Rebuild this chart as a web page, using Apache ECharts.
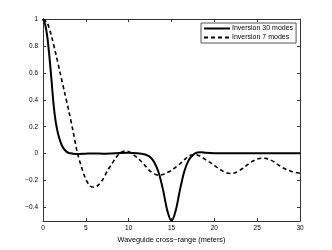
<!DOCTYPE html>
<html><head><meta charset="utf-8">
<script src="https://cdn.jsdelivr.net/npm/echarts@6/dist/echarts.min.js"></script>
<style>html,body{margin:0;padding:0;background:#fff}#c{width:332px;height:250px}</style>
</head><body><div id="c"></div>
<script>
var seriesNames = ["Inversion 30 modes", "Inversion 7 modes"];
var xTicks = [0, 5, 10, 15, 20, 25, 30];
var yTicks = [-0.4, -0.2, 0, 0.2, 0.4, 0.6, 0.8, 1];
var xTitle = "Waveguide cross\u2212range (meters)";

var x30 = [0, 0.25, 0.5, 0.75, 1.0, 1.25, 1.5, 1.75, 2.0, 2.25, 2.5, 2.75, 3.0, 3.5, 4, 5, 6, 7, 8, 9, 10, 11, 11.5, 12, 12.5, 13, 13.5, 14, 14.5, 15, 15.5, 16, 16.5, 17, 17.5, 18, 18.5, 19, 20, 22, 24, 26, 28, 30];
var y30 = [1.0, 0.96, 0.87, 0.72, 0.54, 0.355, 0.23, 0.15, 0.095, 0.055, 0.03, 0.015, 0.005, 0.0, -0.003, 0.0, 0.002, 0.0, 0.002, 0.005, 0.006, 0.004, 0.0, -0.008, -0.025, -0.065, -0.14, -0.265, -0.42, -0.5, -0.42, -0.265, -0.13, -0.05, -0.01, 0.008, 0.01, 0.006, 0.003, 0.004, 0.003, 0.004, 0.004, 0.004];

var x7 = [0, 0.5, 1.0, 1.5, 2.0, 2.5, 3.0, 3.5, 4.0, 4.5, 5.0, 5.5, 6.0, 6.5, 7.0, 7.5, 8.0, 8.5, 9.0, 9.5, 10.0, 10.5, 11.0, 11.5, 12.0, 12.5, 13.0, 13.5, 14.0, 14.5, 15.0, 15.5, 16.0, 16.5, 17.0, 17.5, 18.0, 18.5, 19.0, 19.5, 20.0, 20.5, 21.0, 21.5, 22.0, 22.5, 23.0, 23.5, 24.0, 24.5, 25.0, 25.5, 26.0, 26.5, 27.0, 27.5, 28.0, 28.5, 29.0, 29.5, 30.0];
var y7 = [1.0, 0.97, 0.87, 0.74, 0.6, 0.46, 0.32, 0.17, 0.01, -0.1, -0.19, -0.24, -0.25, -0.23, -0.19, -0.13, -0.08, -0.03, 0.005, 0.02, 0.015, -0.005, -0.03, -0.06, -0.095, -0.13, -0.15, -0.16, -0.155, -0.14, -0.125, -0.1, -0.075, -0.045, -0.02, -0.008, -0.01, -0.025, -0.045, -0.065, -0.088, -0.11, -0.13, -0.143, -0.147, -0.14, -0.122, -0.1, -0.075, -0.055, -0.04, -0.034, -0.035, -0.045, -0.062, -0.085, -0.105, -0.12, -0.132, -0.14, -0.145];

function pairs(xs, ys) { return xs.map(function (x, i) { return [x, ys[i]]; }); }
function fmtY(v) {
  var r = Math.round(v * 10) / 10;
  return (r < 0 ? "\u2212" : "") + String(Math.abs(r));
}
var axisCol = "#333";
var font = "Liberation Sans, Arial, Helvetica, sans-serif";

var chart = echarts.init(document.getElementById("c"), null, { renderer: "canvas" });
chart.setOption({
  animation: false,
  backgroundColor: "#fff",
  grid: { left: 43, right: 32, top: 19, bottom: 29 },
  legend: {
    left: 201, top: 23, orient: "vertical",
    backgroundColor: "#fff", borderColor: "#555", borderWidth: 1,
    padding: [2, 3, 2, 2], itemGap: 2, itemWidth: 26, itemHeight: 8,
    itemStyle: { opacity: 0 },
    textStyle: { fontSize: 7, color: "#000", fontFamily: font, padding: [0, 0, 0, -3] },
    data: seriesNames
  },
  xAxis: [{
    type: "value", min: 0, max: 30, interval: 5,
    name: xTitle, nameLocation: "middle", nameGap: 12,
    nameTextStyle: { fontSize: 7.3, color: "#000", fontFamily: font },
    axisLine: { show: true, onZero: false, lineStyle: { color: axisCol, width: 1 } },
    axisTick: { show: true, inside: true, length: 3, lineStyle: { color: axisCol } },
    axisLabel: { fontSize: 6.5, color: "#000", fontFamily: font, margin: 4 },
    splitLine: { show: false }
  }, {
    type: "value", min: 0, max: 30, interval: 5, position: "top",
    axisLine: { show: true, onZero: false, lineStyle: { color: axisCol, width: 1 } },
    axisTick: { show: true, inside: true, length: 3, lineStyle: { color: axisCol } },
    axisLabel: { show: false }, splitLine: { show: false }
  }],
  yAxis: [{
    type: "value", min: -0.5, max: 1,
    axisLine: { show: true, onZero: false, lineStyle: { color: axisCol, width: 1 } },
    axisTick: { show: true, inside: true, length: 3, customValues: yTicks, lineStyle: { color: axisCol } },
    axisLabel: { fontSize: 6.5, color: "#000", fontFamily: font, margin: 5, customValues: yTicks, formatter: fmtY },
    splitLine: { show: false }
  }, {
    type: "value", min: -0.5, max: 1, position: "right",
    axisLine: { show: true, onZero: false, lineStyle: { color: axisCol, width: 1 } },
    axisTick: { show: true, inside: true, length: 3, customValues: yTicks, lineStyle: { color: axisCol } },
    axisLabel: { show: false }, splitLine: { show: false }
  }],
  series: [{
    name: seriesNames[0], type: "line", xAxisIndex: 0, yAxisIndex: 0,
    data: pairs(x30, y30), smooth: 0.3, symbol: "none", clip: true,
    lineStyle: { color: "#000", width: 2, type: "solid" }, itemStyle: { color: "#000" }
  }, {
    name: seriesNames[1], type: "line", xAxisIndex: 0, yAxisIndex: 0,
    data: pairs(x7, y7), smooth: 0.3, symbol: "none", clip: true,
    lineStyle: { color: "#000", width: 1.6, type: [4, 3] }, itemStyle: { color: "#000" }
  }]
});
</script></body></html>
